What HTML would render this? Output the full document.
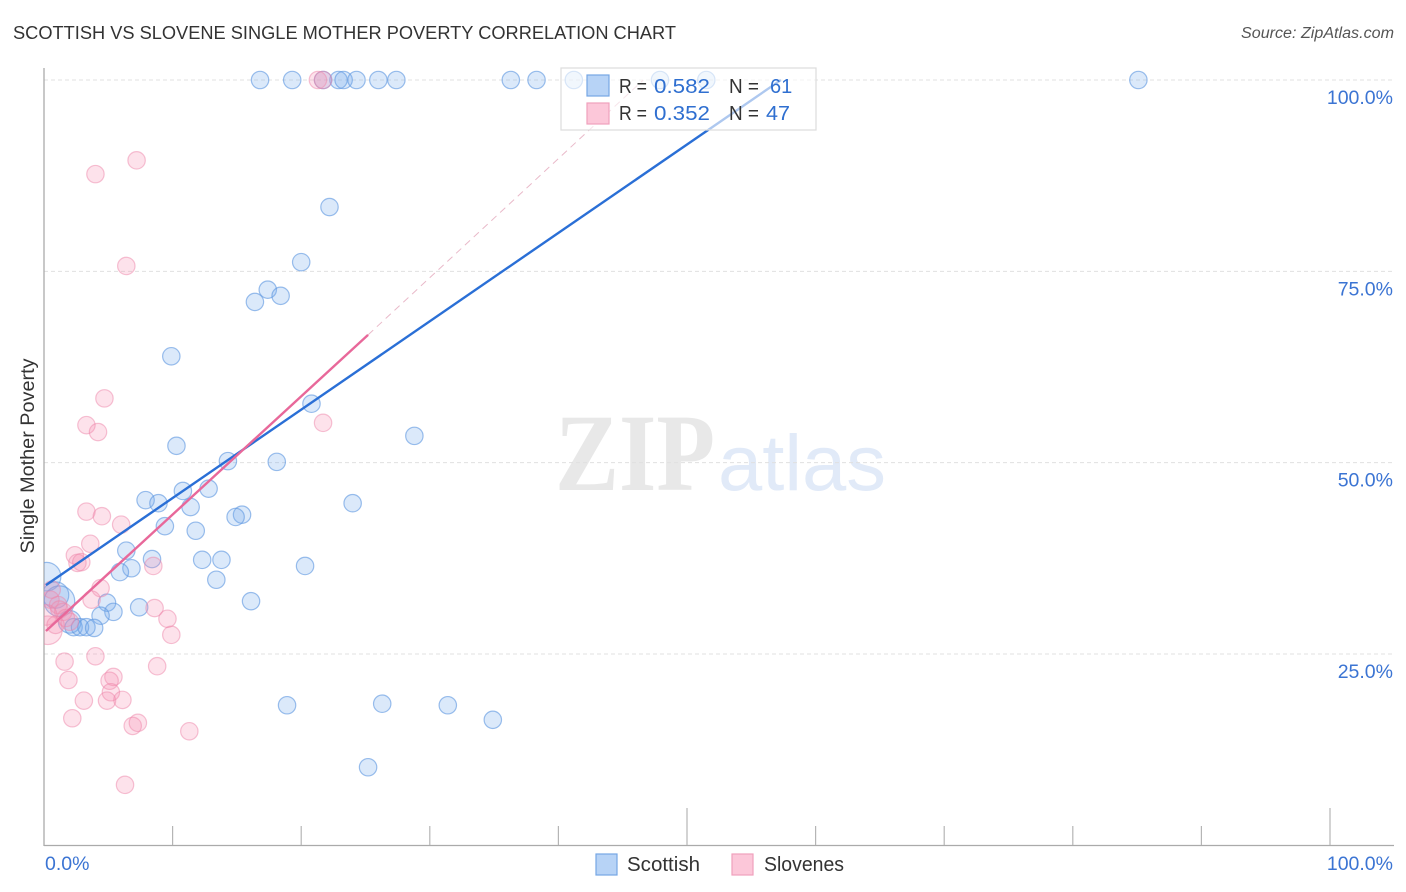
<!DOCTYPE html>
<html lang="en">
<head>
<meta charset="utf-8">
<title>Scottish vs Slovene Single Mother Poverty Correlation Chart</title>
<style>
html,body{margin:0;padding:0;background:#fff;}
body{width:1406px;height:892px;overflow:hidden;font-family:"Liberation Sans",sans-serif;}
svg{display:block;}
text{font-family:"Liberation Sans",sans-serif;}
</style>
</head>
<body>
<svg id="chart" width="1406" height="892" viewBox="0 0 1406 892" xmlns="http://www.w3.org/2000/svg">
  <defs>
    <clipPath id="plot-clip"><rect x="44" y="60" width="1350" height="786"></rect></clipPath>
  </defs>
  <text x="13" y="39" font-size="18.5" fill="#333" textLength="663" lengthAdjust="spacingAndGlyphs">SCOTTISH VS SLOVENE SINGLE MOTHER POVERTY CORRELATION CHART</text>
  <text x="1394" y="38" font-size="15.5" font-style="italic" fill="#555" text-anchor="end" textLength="153" lengthAdjust="spacingAndGlyphs">Source: ZipAtlas.com</text>
  <text transform="translate(34,456) rotate(-90)" font-size="19.5" fill="#333" text-anchor="middle" textLength="195" lengthAdjust="spacingAndGlyphs">Single Mother Poverty</text>

  <g>
    <text x="555" y="490" font-size="110" font-weight="bold" fill="#e8e8e8" style="font-family:'Liberation Serif',serif" textLength="160" lengthAdjust="spacingAndGlyphs">ZIP</text>
    <text x="718" y="490" font-size="79" fill="#e1eaf8" textLength="168" lengthAdjust="spacingAndGlyphs">atlas</text>
  </g>

  <g id="grid"></g>
  <g id="axes"></g>
  <g id="marks" clip-path="url(#plot-clip)"></g>

  <g>
    <rect x="561" y="68" width="255" height="62" fill="#fff" fill-opacity="0.62" stroke="#dcdcdc" stroke-width="1.2"></rect>
    <rect x="587" y="75" width="22" height="21" fill="#b7d3f6" stroke="#76a6e4" stroke-width="1.2"></rect>
    <rect x="587" y="103" width="22" height="21" fill="#fcc7d9" stroke="#f0a0bc" stroke-width="1.2"></rect>
    <text x="619" y="93" font-size="20" fill="#333" textLength="28" lengthAdjust="spacingAndGlyphs">R =</text>
    <text x="654" y="93" font-size="20" fill="#2f6fd0" textLength="56" lengthAdjust="spacingAndGlyphs">0.582</text>
    <text x="729" y="93" font-size="20" fill="#333" textLength="30" lengthAdjust="spacingAndGlyphs">N =</text>
    <text x="770" y="93" font-size="20" fill="#2f6fd0">61</text>
    <text x="619" y="120" font-size="20" fill="#333" textLength="28" lengthAdjust="spacingAndGlyphs">R =</text>
    <text x="654" y="120" font-size="20" fill="#2f6fd0" textLength="56" lengthAdjust="spacingAndGlyphs">0.352</text>
    <text x="729" y="120" font-size="20" fill="#333" textLength="30" lengthAdjust="spacingAndGlyphs">N =</text>
    <text x="766" y="120" font-size="20" fill="#2f6fd0" textLength="24" lengthAdjust="spacingAndGlyphs">47</text>
  </g>

  <g>
    <rect x="596" y="854" width="21" height="21" fill="#b7d3f6" stroke="#76a6e4" stroke-width="1.2"></rect>
    <text x="627" y="871" font-size="20" fill="#333" textLength="73" lengthAdjust="spacingAndGlyphs">Scottish</text>
    <rect x="732" y="854" width="21" height="21" fill="#fcc7d9" stroke="#f0a0bc" stroke-width="1.2"></rect>
    <text x="764" y="871" font-size="20" fill="#333" textLength="80" lengthAdjust="spacingAndGlyphs">Slovenes</text>
  </g>
</svg>
<script>
const xTickValues = [0, 10, 20, 30, 40, 50, 60, 70, 80, 90, 100];
const xMajorTicks = [50, 100];
const xEndLabels = ["0.0%", "100.0%"];
const xEndLabelValues = [0, 100];
const yGridValues = [25, 50, 75, 100];
const yTickLabels = ["25.0%", "50.0%", "75.0%", "100.0%"];

const scottishX = [16.8,19.3,21.7,22.9,23.3,24.3,26.0,27.4,36.3,38.3,41.2,47.9,51.5,85.1,
  22.2,20.0,17.4,18.4,16.4,9.9,20.8,10.3,28.8,14.3,18.1,12.8,10.8,7.9,8.9,24.0,11.4,15.4,14.9,9.4,11.8,
  6.4,8.4,12.3,13.8,6.8,5.9,20.3,13.4,16.1,4.9,7.4,5.4,4.4,31.4,26.3,18.9,34.9,25.2,
  0.2,0.9,1.2,2.0,2.3,2.8,3.3,3.9];
const scottishY = [100,100,100,100,100,100,100,100,100,100,100,100,100,100,
  83.4,76.2,72.6,71.8,71.0,63.9,57.7,52.2,53.5,50.2,50.1,46.6,46.3,45.1,44.7,44.7,44.2,43.2,42.9,41.7,41.1,
  38.5,37.4,37.3,37.3,36.2,35.7,36.5,34.7,31.9,31.7,31.1,30.5,30.0,18.3,18.5,18.3,16.4,10.2,
  35.1,32.7,31.9,29.2,28.5,28.5,28.5,28.4];
const scottishWeight = [1,1,1,1,1,1,1,1,1,1,1,1,1,1,
  1,1,1,1,1,1,1,1,1,1,1,1,1,1,1,1,1,1,1,1,1,
  1,1,1,1,1,1,1,1,1,1,1,1,1,1,1,1,1,1,
  2.7,2.3,3.1,1.7,1,1,1,1];

const slovenesX = [21.3,21.7,7.2,4.0,6.4,4.7,3.3,4.2,21.7,3.3,4.5,6.0,3.6,2.4,2.6,2.9,
  8.5,4.4,3.7,8.6,9.6,9.9,4.0,8.8,1.6,1.9,5.4,5.1,5.2,4.9,6.1,3.1,2.2,6.9,7.3,11.3,6.3,
  0.5,1.1,1.2,1.5,1.7,2.0,0.2,0.3,0.6,0.9];
const slovenesY = [100,100,89.5,87.7,75.7,58.4,54.9,54.0,55.2,43.6,43.0,41.9,39.4,37.9,36.9,37.0,
  36.5,33.6,32.1,31.0,29.6,27.5,24.7,23.4,24.0,21.6,22.0,21.5,20.0,18.9,19.0,18.9,16.6,15.6,16.0,14.9,7.9,
  32.1,31.4,30.8,30.5,29.7,29.2,30.1,28.1,33.4,28.8];
const slovenesWeight = [1,1,1,1,1,1,1,1,1,1,1,1,1,1,1,1,
  1,1,1,1,1,1,1,1,1,1,1,1,1,1,1,1,1,1,1,1,1,
  1,1,1,1,1,1,1.4,2.7,1,1];

const scottishTrendX = [0.15, 57.3];
const scottishTrendY = [34.0, 100];
const slovenesTrendX = [0.15, 25.2];
const slovenesTrendY = [28.0, 66.7];
const slovenesDashedX = [25.2, 46.6];
const slovenesDashedY = [66.7, 100];

const NS = "http://www.w3.org/2000/svg";
const xScale = v => 44 + v * 12.86;
const yScale = v => 845.3 - v * 7.653;
const radius = w => 8.7 * Math.sqrt(w);

function make(tag, attrs, parent, txt) {
  const el = document.createElementNS(NS, tag);
  for (const k in attrs) el.setAttribute(k, attrs[k]);
  if (txt !== undefined) el.textContent = txt;
  parent.appendChild(el);
  return el;
}

const grid = document.getElementById("grid");
const axes = document.getElementById("axes");
const marks = document.getElementById("marks");

yGridValues.forEach((v, i) => {
  const line = make("line", {x1: 44, x2: 1393, y1: yScale(v), y2: yScale(v), stroke: "#e0e0e0", "stroke-width": 1, "stroke-dasharray": "4 3"}, grid);
  
  
  const label = make("text", {x: 1393, y: yScale(v) + 24, "font-size": 19.5, fill: "#3b74d3", "text-anchor": "end"}, axes, yTickLabels[i]);
  
  
});

const yAxis = make("line", {x1: 44, x2: 44, y1: 68, y2: 846, stroke: "#aaaaaa", "stroke-width": 1.3}, axes);


const xAxis = make("line", {x1: 44, x2: 1394, y1: 845.5, y2: 845.5, stroke: "#aaaaaa", "stroke-width": 1.3}, axes);



xTickValues.forEach(v => {
  if (v === 0) return;
  const top = xMajorTicks.includes(v) ? 808 : 826;
  const tick = make("line", {x1: xScale(v), x2: xScale(v), y1: top, y2: 845, stroke: "#b5b5b5", "stroke-width": 1.2}, axes);
  
  
});

xEndLabels.forEach((t, i) => {
  const isLast = i === xEndLabels.length - 1;
  const label = make("text", {x: isLast ? 1393 : xScale(xEndLabelValues[i]) + 1, y: 870, "font-size": 19.5, fill: "#3b74d3", "text-anchor": isLast ? "end" : "start"}, axes, t);
  
  
});

scottishX.forEach((v, i) => {
  const c = make("circle", {cx: xScale(v), cy: yScale(scottishY[i]), r: radius(scottishWeight[i]), fill: "#74a9ec", "fill-opacity": 0.26, stroke: "#5f97e0", "stroke-opacity": 0.62, "stroke-width": 1.2}, marks);
  
  
});

slovenesX.forEach((v, i) => {
  const c = make("circle", {cx: xScale(v), cy: yScale(slovenesY[i]), r: radius(slovenesWeight[i]), fill: "#f78fb0", "fill-opacity": 0.26, stroke: "#ee86a9", "stroke-opacity": 0.5, "stroke-width": 1.2}, marks);
  
  
});

const dashed = make("line", {x1: xScale(slovenesDashedX[0]), y1: yScale(slovenesDashedY[0]), x2: xScale(slovenesDashedX[1]), y2: yScale(slovenesDashedY[1]), stroke: "#e9b9c9", "stroke-width": 1, "stroke-dasharray": "7 5"}, marks);



const blueLine = make("line", {x1: xScale(scottishTrendX[0]), y1: yScale(scottishTrendY[0]), x2: xScale(scottishTrendX[1]), y2: yScale(scottishTrendY[1]), stroke: "#2a6fd6", "stroke-width": 2.4}, marks);



const pinkLine = make("line", {x1: xScale(slovenesTrendX[0]), y1: yScale(slovenesTrendY[0]), x2: xScale(slovenesTrendX[1]), y2: yScale(slovenesTrendY[1]), stroke: "#e8689a", "stroke-width": 2.4}, marks);


</script>
</body>
</html>
